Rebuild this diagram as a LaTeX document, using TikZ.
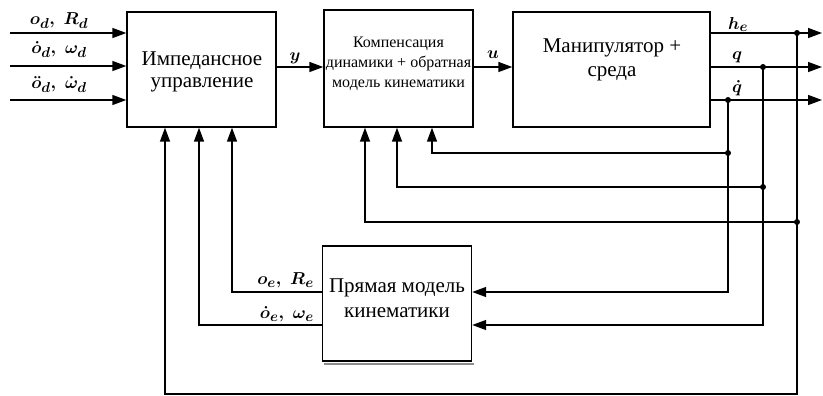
\documentclass[tikz,border=0pt]{standalone}
\usepackage{amsmath}
\usepackage{fontspec}
\setmainfont{Liberation Serif}
\newfontfamily\blockfont{Liberation Serif}
\usetikzlibrary{arrows.meta}

\begin{document}
\begin{tikzpicture}[x=1pt,y=-1pt,
  blk/.style={draw,line width=1.4pt,minimum width=149pt,minimum height=115pt,inner sep=0pt},
  txt/.style={align=center,font=\blockfont\fontsize{21}{22}\selectfont,inner sep=0pt},
  lbl/.style={inner sep=0pt,font=\fontsize{19}{20}\selectfont\boldmath},
  wire/.style={line width=1.4pt},
  arr/.style={wire,-{Triangle[length=14pt,width=10pt]}},
  jdot/.style={circle,fill,inner sep=0pt,minimum size=6pt}]

\useasboundingbox (0,0) rectangle (823,396);

% blocks
\node[blk] (imp) at (201.5,69.5) {};
\node[blk,minimum height=117pt] (comp) at (398.5,68.5) {};
\node[blk,minimum width=197pt] (man) at (611.5,69.5) {};
\node[blk] (fwd) at (397,303.5) {};
% soft shadow under the forward-kinematics block
\draw[black!45,line width=1.2pt] ([xshift=2pt,yshift=-2.2pt]fwd.south west)
  -- ([xshift=2pt,yshift=-2.2pt]fwd.south east);

% block captions
\node[txt] (imptxt) at (202,72) {Импедансное\\управление};
\node[txt,font=\blockfont\fontsize{16}{20}\selectfont] (comptxt) at (398.5,64) {Компенсация\\динамики + обратная\\модель кинематики};
\node[txt,font=\blockfont\fontsize{21}{24}\selectfont] (mantxt) at (612,60) {Манипулятор +\\среда};
\node[txt,font=\blockfont\fontsize{21}{25}\selectfont] (fwdtxt) at (397,298) {Прямая модель\\кинематики};

% desired motion inputs
\coordinate (i1) at (10,33);
\coordinate (i2) at (10,66);
\coordinate (i3) at (10,100);
\draw[arr] (i1) -- (i1 -| imp.west);
\draw[arr] (i2) -- (i2 -| imp.west);
\draw[arr] (i3) -- (i3 -| imp.west);
\node[lbl,anchor=south] (od) at (59,29) {$o_d,\;R_d$};
\node[lbl,anchor=south] (dod) at (59,58) {$\dot o_d,\;\omega_d$};
\node[lbl,anchor=south] (ddod) at (59,93) {$\ddot o_d,\;\dot\omega_d$};

% forward path
\coordinate (ylev) at (300,67);
\draw[arr] (imp.east |- ylev) -- (comp.west |- ylev);
\draw[arr] (comp.east |- ylev) -- (man.west |- ylev);
\node[lbl,anchor=south] (ylbl) at (295,64) {$y$};
\node[lbl,anchor=south] (ulbl) at (493,59) {$u$};

% outputs
\coordinate (o1) at (822,33);
\coordinate (o2) at (822,67);
\coordinate (o3) at (822,100);
\draw[arr] (man.east |- o1) -- (o1);
\draw[arr] (man.east |- o2) -- (o2);
\draw[arr] (man.east |- o3) -- (o3);
\node[lbl,anchor=south] (helbl) at (738,32) {$h_e$};
\node[lbl,anchor=south] (qlbl) at (737,63) {$q$};
\node[lbl,anchor=south] (dqlbl) at (737,96) {$\dot q$};

% feedback branches
\coordinate (jh) at (797,33);
\coordinate (jq) at (763,67);
\coordinate (jd) at (728,100);
\coordinate (bh) at (797,222);
\coordinate (bq) at (763,187);
\coordinate (bd) at (728,153);

\draw[arr] (bd) -| ([xshift=33.5pt]comp.south);
\draw[arr] (bq) -| ([xshift=-1.5pt]comp.south);
\draw[arr] (bh) -| ([xshift=-33.5pt]comp.south);
\draw[arr] (jd) |- ([yshift=11.5pt]fwd.east);
\draw[arr] (jq) |- ([yshift=-21.5pt]fwd.east);

\coordinate (oe) at (232,292);
\coordinate (doe) at (199,325);
\coordinate (bot) at (165,394);
\draw[arr] (fwd.west |- oe) -- (oe) -- (oe |- imp.south);
\draw[arr] (fwd.west |- doe) -- (doe) -- (doe |- imp.south);
\draw[arr] (jh) -- (jh |- bot) -- (bot) -- (bot |- imp.south);
\node[lbl,anchor=south east] (oerl) at (314,288) {$o_e,\;R_e$};
\node[lbl,anchor=south east] (doewl) at (314,322) {$\dot o_e,\;\omega_e$};

% junction dots
\foreach \p in {jh,jq,jd,bh,bq,bd} \node[jdot] at (\p) {};
\end{tikzpicture}
\end{document}
